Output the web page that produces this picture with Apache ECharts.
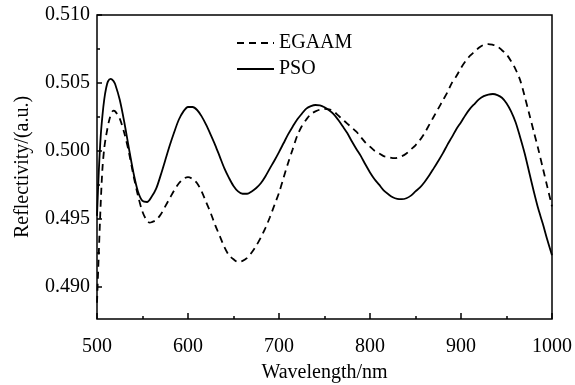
<!DOCTYPE html>
<html>
<head>
<meta charset="utf-8">
<script src="https://cdn.jsdelivr.net/npm/echarts@6/dist/echarts.min.js"></script>
<style>html,body{margin:0;padding:0;background:#fff;}#c{width:575px;height:385px;}</style>
</head>
<body>
<div id="c"></div>
<script>
const psoNm = [500,502,504,506,508,510,512,515,518,520,525,530,535,540,545,550,555,560,565,570,575,580,585,590,595,600,605,610,615,620,625,630,635,640,645,650,655,660,665,670,675,680,685,690,695,700,705,710,715,720,725,730,735,740,745,750,755,760,765,770,775,780,785,790,795,800,805,810,815,820,825,830,835,840,845,850,855,860,865,870,875,880,885,890,895,900,905,910,915,920,925,930,935,940,945,950,955,960,965,970,975,980,985,990,995,1000];
const psoVal = [0.4952,0.4985,0.5010,0.5026,0.5038,0.5046,0.5051,0.5053,0.50515,0.5049,0.50375,0.5021,0.5002,0.4984,0.4970,0.4963,0.49622,0.4966,0.4972,0.4982,0.4993,0.5004,0.5014,0.5023,0.5029,0.50322,0.50322,0.5030,0.50253,0.5019,0.50117,0.5004,0.49955,0.4987,0.4980,0.4974,0.4970,0.49683,0.49683,0.4970,0.49725,0.4976,0.4981,0.4987,0.49928,0.4999,0.50055,0.5012,0.50177,0.5023,0.50272,0.5031,0.50328,0.50337,0.50334,0.5032,0.50298,0.5027,0.50228,0.5018,0.5013,0.5007,0.50013,0.4996,0.49898,0.4984,0.4979,0.4975,0.49708,0.4968,0.49657,0.49645,0.49643,0.4965,0.49669,0.4970,0.4973,0.4977,0.49817,0.4987,0.49924,0.4998,0.50043,0.5010,0.5016,0.5021,0.50264,0.5031,0.50346,0.5038,0.50402,0.50414,0.50418,0.50410,0.5039,0.5035,0.5029,0.5021,0.5010,0.4998,0.4984,0.4970,0.4957,0.4946,0.4934,0.4923];
const egaamNm = [500,502,504,506,508,510,514,518,520,525,530,535,540,545,550,555,558,560,565,570,575,580,585,590,595,600,605,610,615,620,625,630,635,640,645,650,655,660,665,670,675,680,685,690,695,700,705,710,715,720,725,730,735,740,745,750,755,760,765,770,775,780,785,790,795,800,805,810,815,820,827,835,840,845,850,855,860,865,870,875,880,885,890,895,900,905,910,915,920,925,930,935,940,945,950,955,960,965,970,975,980,985,990,995,1000];
const egaamVal = [0.4888,0.4925,0.4960,0.4987,0.5002,0.5011,0.5024,0.50295,0.5029,0.50236,0.5013,0.4999,0.4982,0.4967,0.4955,0.49482,0.4947,0.49473,0.4949,0.4953,0.4959,0.4965,0.4971,0.4976,0.49793,0.49805,0.49792,0.4976,0.4970,0.4962,0.4954,0.4945,0.4937,0.4929,0.4923,0.4920,0.4918,0.49188,0.4921,0.4925,0.4930,0.4936,0.4943,0.4951,0.4960,0.4969,0.4980,0.4991,0.5001,0.5011,0.5018,0.5023,0.5027,0.5029,0.50303,0.50308,0.50305,0.5029,0.5026,0.5023,0.5020,0.5017,0.5014,0.5010,0.5006,0.5003,0.5000,0.4998,0.4996,0.49953,0.49945,0.4996,0.4998,0.5001,0.5004,0.5008,0.5013,0.5019,0.5025,0.5031,0.5037,0.5043,0.5050,0.5055,0.5061,0.5066,0.5070,0.5073,0.5076,0.5078,0.50786,0.5078,0.5077,0.5074,0.5071,0.5066,0.5060,0.5052,0.5040,0.5027,0.5014,0.5001,0.4987,0.4973,0.4959];
const yMajor = [0.490,0.495,0.500,0.505,0.510];
const yMinor = [0.4925,0.4975,0.5025,0.5075];
const seriesNames = ['EGAAM','PSO'];

const FONT = 'Liberation Serif';
const zip = (a,b) => a.map((x,i)=>[x,b[i]]);
const chart = echarts.init(document.getElementById('c'), null, {renderer:'canvas'});
const yCommon = {
  type:'value', min:0.4876, max:0.510, position:'left',
  axisLine:{show:false}, splitLine:{show:false}
};
chart.setOption({
  backgroundColor:'#fff',
  animation:false,
  grid:{left:97, top:15, right:23, bottom:66, outerBoundsMode:'none', containLabel:false, show:true, borderColor:'#000', borderWidth:1.5, backgroundColor:'transparent'},
  legend:{
    orient:'vertical', left:231, top:28, itemWidth:37, itemHeight:20, itemGap:6,
    data:seriesNames,
    itemStyle:{opacity:0},
    textStyle:{fontFamily:FONT, fontSize:20, color:'#000'}
  },
  xAxis:{
    type:'value', min:500, max:1000, interval:100,
    axisLine:{show:false},
    axisTick:{show:true, inside:true, length:6, lineStyle:{color:'#000', width:1.5}},
    minorTick:{show:true, splitNumber:2, length:3, lineStyle:{color:'#000', width:1.5}},
    splitLine:{show:false}, minorSplitLine:{show:false},
    axisLabel:{fontFamily:FONT, fontSize:20, color:'#000', margin:18, formatter:v=>String(v)},
    name:'Wavelength/nm', nameLocation:'middle', nameGap:44,
    nameTextStyle:{fontFamily:FONT, fontSize:20, color:'#000'}
  },
  yAxis:[
    Object.assign({}, yCommon, {
      axisTick:{show:true, inside:true, length:5, customValues:yMajor, lineStyle:{color:'#000', width:1.5}},
      axisLabel:{fontFamily:FONT, fontSize:20, color:'#000', margin:7, customValues:yMajor, formatter:v=>v.toFixed(3)},
      name:'Reflectivity/(a.u.)', nameLocation:'middle', nameGap:64, nameRotate:90,
      nameTextStyle:{fontFamily:FONT, fontSize:20, color:'#000'}
    }),
    Object.assign({}, yCommon, {
      axisTick:{show:true, inside:true, length:3, customValues:yMinor, lineStyle:{color:'#000', width:1.5}},
      axisLabel:{show:false}
    })
  ],
  series:[
    {name:seriesNames[0], type:'line', yAxisIndex:0, data:zip(egaamNm, egaamVal), smooth:0.3, symbol:'none',
     lineStyle:{color:'#000', width:1.8, type:[7,5]}, itemStyle:{color:'#000'}},
    {name:seriesNames[1], type:'line', yAxisIndex:0, data:zip(psoNm, psoVal), smooth:0.3, symbol:'none',
     lineStyle:{color:'#000', width:1.8, type:'solid'}, itemStyle:{color:'#000'}}
  ]
});
</script>
</body>
</html>
